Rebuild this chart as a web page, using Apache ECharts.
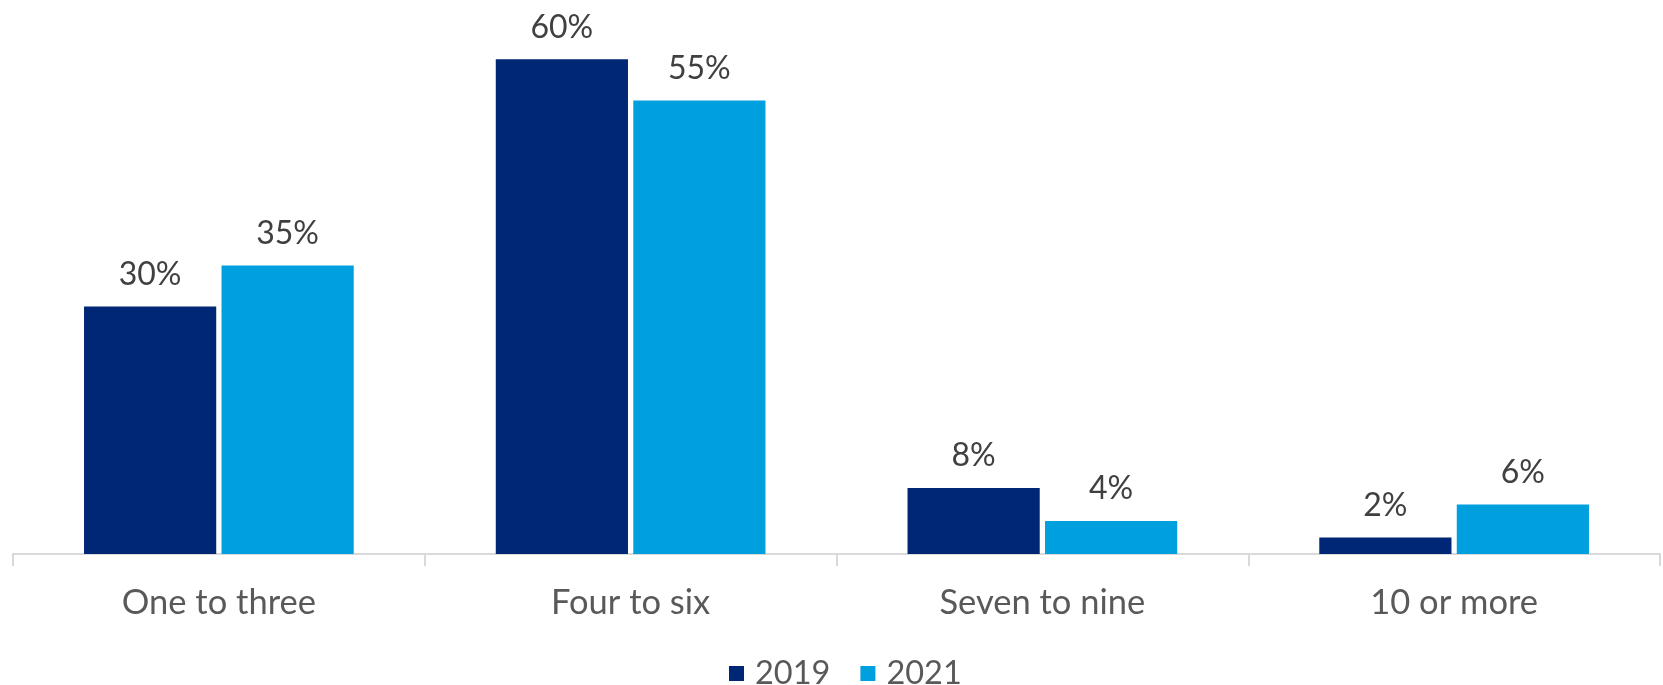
<!DOCTYPE html>
<html>
<head>
<meta charset="utf-8">
<script src="https://cdn.jsdelivr.net/npm/echarts@6/dist/echarts.min.js"></script>
<style>html,body{margin:0;padding:0;background:#fff;}#c{width:1663px;height:685px;}</style>
</head>
<body>
<div id="c"></div>
<script>
const categories = ['One to three', 'Four to six', 'Seven to nine', '10 or more'];
const seriesNames = ['2019', '2021'];
const values2019 = [30, 60, 8, 2];
const values2021 = [35, 55, 4, 6];

const colors = ['#002776', '#00A0DF'];
const font = 'Lato';
const chart = echarts.init(document.getElementById('c'), null, {renderer: 'canvas'});
const labelCfg = {
  show: true, position: 'top', distance: 16,
  formatter: p => p.value + '%',
  fontFamily: font, fontSize: 32, color: '#404040'
};
chart.setOption({
  animation: false,
  backgroundColor: '#fff',
  grid: {left: 13, right: 3, top: 18, bottom: 131, containLabel: false},
  legend: {
    data: seriesNames,
    left: 724, top: 652,
    itemWidth: 15, itemHeight: 15, itemGap: 30,
    icon: 'rect',
    textStyle: {fontFamily: font, fontSize: 32.5, color: '#595959', padding: [0, 0, 0, 6]}
  },
  xAxis: {
    type: 'category', data: categories,
    axisLine: {lineStyle: {color: '#d9d9d9', width: 2}},
    axisTick: {show: true, length: 12, alignWithLabel: false, lineStyle: {color: '#d9d9d9', width: 2}},
    axisLabel: {fontFamily: font, fontSize: 34.5, color: '#595959', margin: 31}
  },
  yAxis: {type: 'value', min: 0, max: 65, show: false, splitLine: {show: false}},
  series: [
    {name: seriesNames[0], type: 'bar', data: values2019, itemStyle: {color: colors[0]},
     barGap: '4%', barCategoryGap: '34.5%', label: labelCfg},
    {name: seriesNames[1], type: 'bar', data: values2021, itemStyle: {color: colors[1]},
     barGap: '4%', barCategoryGap: '34.5%', label: labelCfg}
  ]
});
</script>
</body>
</html>
